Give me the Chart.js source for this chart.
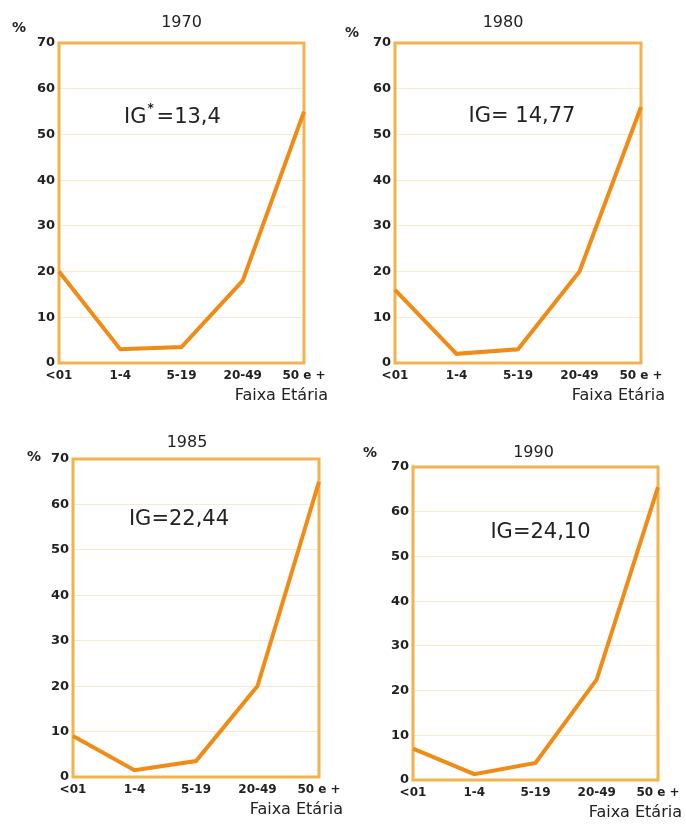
<!DOCTYPE html>
<html lang="pt">
<head>
  <meta charset="UTF-8">
  <title>Mortalidade por Faixa Etária</title>
  <script src="https://cdn.jsdelivr.net/npm/chart.js"></script>
  <style>
    body { margin: 0; background: #fff; }
    #quadro { position: relative; width: 686px; height: 833px; }
    #quadro canvas { position: absolute; }
  </style>
</head>
<body>
  <div id="quadro"></div>

  <script>
    // Dados (percentual por faixa etária)
    const faixas = ["<01", "1-4", "5-19", "20-49", "50 e +"];
    const anos = ["1970", "1980", "1985", "1990"];
    const valores1970 = [20, 3, 3.5, 18, 55];
    const valores1980 = [16, 2, 3, 20, 56];
    const valores1985 = [9, 1.5, 3.5, 20, 65];
    const valores1990 = [7, 1.3, 3.8, 22.5, 65.5];
    const indicesIG = ["IG*=13,4", "IG= 14,77", "IG=22,44", "IG=24,10"];
    const ticksY = [0, 10, 20, 30, 40, 50, 60, 70];

    const series = [valores1970, valores1980, valores1985, valores1990];

    // Posição de cada quadro (área do gráfico) e deslocamentos dos textos
    const paineis = [
      { area: [59, 43, 304, 363],  pct: [-40, -15], tit: [0, -20],  ig: [-9, 75] },
      { area: [395, 43, 641, 363], pct: [-43, -10], tit: [-15, -20], ig: [4, 74] },
      { area: [73, 459, 319, 777], pct: [-39, -2],  tit: [-9, -16], ig: [-17, 61] },
      { area: [413, 467, 658, 780], pct: [-43, -14], tit: [-2, -14], ig: [5, 66] }
    ];

    const ESQ = 55, TOPO = 45, DIR = 48, BASE = 50;
    const laranja = "#f08c16";
    const borda = "#f2b24c";

    const textos = {
      id: "textos",
      beforeDatasetsDraw(chart) {
        const { ctx, chartArea: a } = chart;
        ctx.save();
        ctx.strokeStyle = borda;
        ctx.lineWidth = 3;
        ctx.strokeRect(a.left, a.top, a.right - a.left, a.bottom - a.top);
        ctx.restore();
      },
      afterDraw(chart, args, opts) {
        const { ctx, chartArea: a } = chart;
        const cx = (a.left + a.right) / 2;
        ctx.save();
        ctx.fillStyle = "#222";
        ctx.textBaseline = "middle";

        ctx.textAlign = "center";
        ctx.font = "16px 'DejaVu Sans'";
        ctx.fillText(opts.ano, cx + opts.tit[0], a.top + opts.tit[1]);

        ctx.font = "bold 14px 'DejaVu Sans'";
        ctx.fillText("%", a.left + opts.pct[0], a.top + opts.pct[1]);

        // IG, com asterisco sobrescrito quando houver
        ctx.font = "21px 'DejaVu Sans'";
        const partes = opts.ig.split("*");
        const y0 = a.top + opts.igOff[1];
        if (partes.length > 1) {
          const w1 = ctx.measureText(partes[0]).width;
          const w2 = ctx.measureText(partes[1]).width;
          const total = w1 + 10 + w2;
          const x = cx + opts.igOff[0] - total / 2;
          ctx.textAlign = "left";
          ctx.fillText(partes[0], x, y0);
          ctx.font = "bold 12px 'DejaVu Sans'";
          ctx.fillText("*", x + w1 + 1, y0 - 9);
          ctx.font = "21px 'DejaVu Sans'";
          ctx.fillText(partes[1], x + w1 + 10, y0);
        } else {
          ctx.textAlign = "center";
          ctx.fillText(opts.ig, cx + opts.igOff[0], y0);
        }

        ctx.textAlign = "right";
        ctx.font = "16px 'DejaVu Sans'";
        ctx.fillText("Faixa Etária", a.right + 24, a.bottom + 33);
        ctx.restore();
      }
    };

    const quadro = document.getElementById("quadro");

    paineis.forEach((p, i) => {
      const [L, T, R, B] = p.area;
      const w = (R - L) + ESQ + DIR;
      const h = (B - T) + TOPO + BASE;
      const canvas = document.createElement("canvas");
      canvas.width = w;
      canvas.height = h;
      canvas.style.left = (L - ESQ) + "px";
      canvas.style.top = (T - TOPO) + "px";
      quadro.appendChild(canvas);

      new Chart(canvas.getContext("2d"), {
        type: "line",
        data: {
          labels: faixas,
          datasets: [{
            data: series[i],
            borderColor: laranja,
            borderWidth: 4,
            pointRadius: 0,
            tension: 0,
            clip: false
          }]
        },
        options: {
          responsive: false,
          animation: false,
          events: [],
          layout: { padding: { left: 0, top: TOPO, right: DIR, bottom: 0 } },
          plugins: {
            legend: { display: false },
            tooltip: { enabled: false },
            textos: { ano: anos[i], ig: indicesIG[i], igOff: p.ig, tit: p.tit, pct: p.pct }
          },
          scales: {
            x: {
              offset: false,
              afterFit: s => { s.height = BASE; },
              grid: { display: false, drawTicks: false },
              border: { display: false },
              ticks: {
                padding: 6,
                maxRotation: 0,
                autoSkip: false,
                color: "#222",
                font: { family: "'DejaVu Sans'", size: 12, weight: "bold" }
              }
            },
            y: {
              min: 0,
              max: 70,
              afterFit: s => { s.width = ESQ; },
              afterBuildTicks: s => { s.ticks = ticksY.map(v => ({ value: v })); },
              grid: { color: "#f7ecc9", lineWidth: 1, drawTicks: false },
              border: { display: false },
              ticks: {
                padding: 4,
                color: "#222",
                font: { family: "'DejaVu Sans'", size: 13, weight: "bold" }
              }
            }
          }
        },
        plugins: [textos]
      });
    });
  </script>
</body>
</html>
